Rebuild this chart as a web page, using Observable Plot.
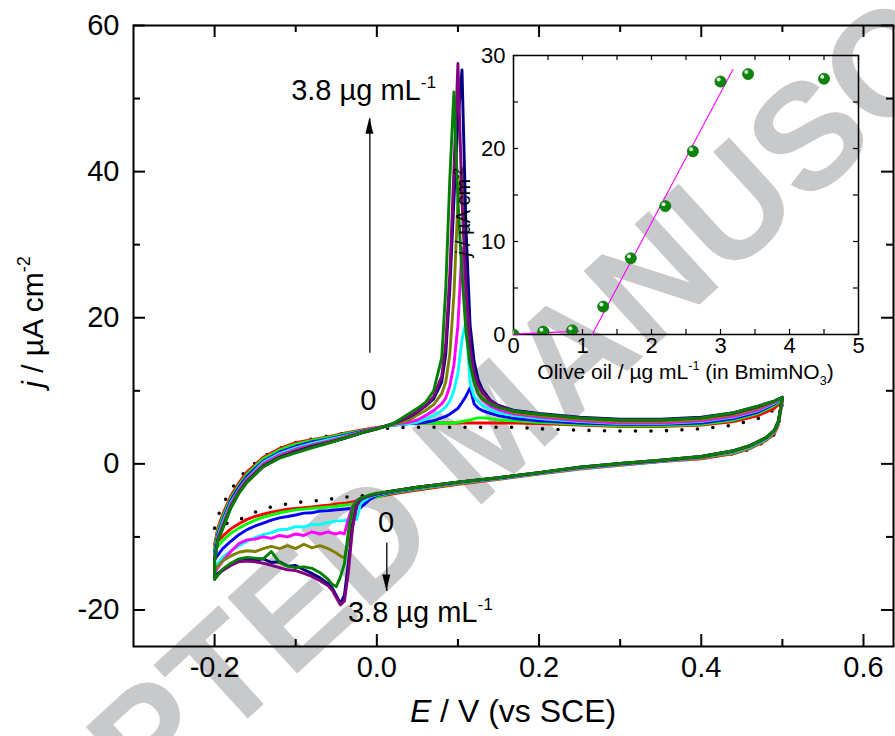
<!DOCTYPE html>
<html><head><meta charset="utf-8">
<script src="https://cdn.jsdelivr.net/npm/d3@7"></script>
<script src="https://cdn.jsdelivr.net/npm/@observablehq/plot@0.6"></script>
<style>
html,body{margin:0;padding:0;background:#fff;}
#wrap{position:relative;width:895px;height:736px;overflow:hidden;}
#wrap svg{position:absolute;}
</style></head><body><div id="wrap"></div>
<script>
// ---------- main CV data (E in V vs SCE, j in µA cm-2) ----------
const upperE = [-0.2,-0.196,-0.19,-0.18,-0.17,-0.16,-0.14,-0.12,-0.1,-0.08,-0.06,-0.04,-0.02,0,
  0.02,0.04,0.05,0.06,0.07,0.08,0.085,0.09,0.095,0.1,0.105,0.11,0.115,0.12,0.125,0.13,0.14,0.15,
  0.17,0.2,0.25,0.3,0.35,0.4,0.44,0.47,0.49,0.5];
const lowerE = [0.5,0.495,0.49,0.48,0.46,0.44,0.4,0.35,0.3,0.25,0.2,0.15,0.1,0.05,0.02,
  0,-0.01,-0.02,-0.025,-0.03,-0.035,-0.04,-0.045,-0.05,-0.055,-0.06,-0.07,-0.08,-0.09,-0.1,
  -0.11,-0.12,-0.13,-0.14,-0.15,-0.16,-0.17,-0.18,-0.19,-0.196,-0.2];

const upDotted  = [-8.8,-7.2,-5.6,-3.6,-2.0,-0.8,1.0,2.1,2.9,3.4,3.8,4.2,4.5,4.8,
  4.9,5.0,5.0,5.0,5.0,5.0,5.0,5.0,5.0,5.0,5.0,5.0,5.0,5.0,5.0,5.0,5.0,5.0,
  5.0,4.8,4.6,4.5,4.5,4.8,5.3,6.2,7.4,8.3];
const upRed     = [-11.0,-8.8,-6.9,-4.4,-2.6,-1.1,0.9,2.1,2.9,3.3,3.7,4.2,4.6,5.0,
  5.3,5.5,5.5,5.6,5.6,5.6,5.6,5.6,5.6,5.6,5.6,5.6,5.6,5.6,5.6,5.6,5.6,5.6,
  5.6,5.5,5.3,5.1,5.1,5.3,5.8,6.6,7.6,8.6];
const upLime    = [-11.5,-9.2,-7.3,-4.7,-2.9,-1.4,0.7,1.9,2.7,3.2,3.6,4.1,4.5,4.9,
  5.3,5.5,5.6,5.6,5.6,5.6,5.6,5.6,5.6,5.7,5.8,5.9,6.0,6.2,6.3,6.3,6.2,6.0,
  5.9,5.7,5.4,5.2,5.2,5.4,6.0,6.9,8.0,8.8];
const upBlue    = [-12.0,-9.6,-7.7,-5.0,-3.2,-1.7,0.4,1.6,2.4,3.0,3.4,3.9,4.4,4.9,
  5.3,5.5,5.6,5.7,5.9,6.3,6.5,6.8,7.2,7.6,8.4,9.3,10.4,8.2,7.6,7.3,6.9,6.6,
  6.2,5.9,5.6,5.4,5.4,5.6,6.2,7.1,8.2,8.9];
const upCyan    = [-12.4,-9.9,-8.0,-5.3,-3.5,-2.0,0.2,1.4,2.2,2.8,3.3,3.8,4.3,4.9,
  5.3,5.5,5.7,6.1,6.6,7.3,7.8,8.6,10.0,12.5,17.0,19.5,11.0,9.2,8.5,8.0,7.4,7.0,
  6.6,6.2,5.8,5.5,5.5,5.8,6.4,7.3,8.3,8.9];
const upMagenta = [-12.7,-10.1,-8.3,-5.5,-3.6,-2.1,0.0,1.2,2.0,2.6,3.1,3.7,4.3,4.9,
  5.4,5.7,6.0,6.6,7.3,8.2,9.0,10.7,13.5,19.0,29.5,22.0,14.5,11.2,9.6,8.8,7.9,7.4,
  6.8,6.4,5.9,5.6,5.6,5.9,6.5,7.4,8.4,9.0];
const upOlive   = [-12.9,-10.3,-8.5,-5.7,-3.8,-2.3,-0.2,1.0,1.8,2.5,3.0,3.6,4.2,4.8,
  5.4,6.0,6.7,7.3,8.1,9.6,11.2,15.0,23.0,36.0,40.5,25.0,16.0,12.5,10.6,9.5,8.4,7.8,
  7.0,6.6,6.1,5.8,5.8,6.1,6.7,7.6,8.5,9.0];
const upNavy    = [-13.1,-10.4,-8.7,-5.9,-3.9,-2.4,-0.3,0.9,1.7,2.4,2.9,3.5,4.2,4.8,
  5.5,6.4,7.1,7.9,8.9,11.2,15.0,24.0,36.0,47.0,53.9,32.0,19.0,14.0,11.5,10.2,8.7,8.0,
  7.3,6.9,6.4,6.1,6.1,6.4,7.0,7.9,8.6,9.1];
const upPurple  = [-13.2,-10.5,-8.8,-6.0,-4.0,-2.5,-0.4,0.8,1.6,2.3,2.9,3.5,4.2,4.8,
  5.5,6.5,7.2,8.0,9.2,12.0,16.5,26.0,40.0,54.8,36.0,24.0,16.0,12.5,10.8,9.8,8.6,7.9,
  7.2,6.8,6.3,6.0,6.0,6.3,6.9,7.8,8.6,9.1];
const upGreen   = [-13.3,-10.5,-8.9,-6.0,-4.0,-2.5,-0.4,0.8,1.5,2.2,2.8,3.5,4.2,4.8,
  5.5,6.9,7.6,8.4,10.0,14.5,24.0,39.0,50.9,36.0,26.0,18.0,13.5,11.2,9.6,8.9,8.2,7.7,
  7.2,6.8,6.3,6.0,6.0,6.3,7.0,7.9,8.6,9.1];

const loDotted  = [8.3,5.2,4.0,3.1,2.0,1.4,0.8,0.4,-0.1,-0.6,-1.3,-2.0,-2.6,-3.3,-3.8,
  -4.2,-4.3,-4.4,-4.4,-4.5,-4.5,-4.6,-4.6,-4.7,-4.8,-4.8,-5.0,-5.1,-5.2,-5.3,-5.5,-5.6,-5.9,-6.2,-6.6,-7.1,-7.7,-8.0,-8.3,-8.5,-8.8];
const loRed     = [8.6,5.3,4.1,3.2,2.1,1.4,0.7,0.3,-0.2,-0.7,-1.4,-2.1,-2.8,-3.6,-4.1,
  -4.5,-4.8,-5.0,-5.1,-5.2,-5.3,-5.4,-5.45,-5.5,-5.6,-5.65,-5.75,-5.9,-6.0,-6.1,-6.2,-6.4,-6.6,-6.9,-7.2,-7.6,-8.2,-8.9,-9.9,-10.6,-11.2];
const loLime    = [8.8,5.5,4.3,3.3,2.2,1.5,0.8,0.3,-0.15,-0.65,-1.35,-2.05,-2.7,-3.45,-3.95,
  -4.5,-4.8,-5.2,-5.4,-5.5,-5.6,-5.65,-5.7,-5.8,-5.85,-5.9,-6.0,-6.1,-6.2,-6.3,-6.5,-6.7,-7.0,-7.3,-7.7,-8.2,-8.8,-9.5,-10.5,-11.3,-11.9];
const loBlue    = [8.9,5.6,4.4,3.4,2.3,1.6,0.85,0.35,-0.1,-0.6,-1.3,-2.0,-2.6,-3.35,-3.85,
  -4.3,-5.0,-6.0,-6.05,-6.1,-6.15,-6.2,-6.25,-6.3,-6.35,-6.4,-6.45,-6.7,-6.75,-7.0,-7.2,-7.4,-7.7,-8.1,-8.5,-9.0,-9.7,-10.6,-11.6,-12.5,-13.1];
const loCyan    = [8.9,5.6,4.4,3.4,2.3,1.6,0.85,0.35,-0.1,-0.6,-1.3,-2.0,-2.6,-3.3,-3.8,
  -4.2,-4.6,-5.4,-7.6,-7.7,-7.65,-7.75,-7.8,-7.8,-7.95,-8.0,-8.3,-8.3,-8.65,-8.6,-8.95,-9.0,-9.4,-9.7,-10.1,-10.6,-11.2,-11.9,-12.8,-13.6,-14.2];
const loMagenta = [9.0,5.7,4.5,3.5,2.4,1.7,0.9,0.4,-0.05,-0.55,-1.25,-1.95,-2.55,-3.25,-3.75,
  -4.1,-4.4,-4.7,-5.0,-5.8,-7.5,-9.6,-9.4,-9.6,-9.5,-9.3,-9.6,-9.3,-9.8,-9.6,-10.0,-9.8,-10.2,-10.0,-10.3,-10.4,-10.9,-12.0,-13.3,-14.2,-14.9];
const loOlive   = [9.0,5.7,4.5,3.5,2.4,1.7,0.9,0.45,0.0,-0.5,-1.2,-1.9,-2.5,-3.2,-3.7,
  -4.1,-4.4,-4.8,-5.3,-7.2,-10.5,-12.9,-12.6,-12.2,-11.9,-11.6,-11.2,-11.5,-11.0,-11.6,-11.2,-11.6,-11.3,-11.6,-12.0,-11.9,-12.1,-12.6,-13.3,-14.0,-14.6];
const loNavy    = [9.1,5.8,4.6,3.6,2.5,1.8,1.0,0.5,0.05,-0.45,-1.2,-1.9,-2.5,-3.2,-3.7,
  -4.1,-4.4,-4.8,-5.7,-8.5,-13.5,-18.0,-19.1,-18.0,-17.0,-16.4,-15.6,-15.0,-14.5,-13.9,-14.0,-13.4,-13.5,-13.0,-13.2,-13.0,-13.3,-13.8,-14.5,-15.0,-15.6];
const loPurple  = [9.1,5.8,4.6,3.6,2.5,1.8,1.0,0.5,0.05,-0.45,-1.2,-1.9,-2.5,-3.2,-3.7,
  -4.1,-4.4,-4.9,-5.8,-8.8,-14.8,-18.8,-19.3,-18.3,-17.3,-16.7,-16.0,-15.4,-15.0,-14.6,-14.5,-14.2,-13.9,-13.6,-13.4,-13.3,-13.4,-13.9,-14.6,-15.2,-15.8];
const loGreen   = [9.1,5.8,4.6,3.6,2.5,1.8,1.0,0.5,0.05,-0.45,-1.2,-1.9,-2.5,-3.2,-3.7,
  -4.0,-4.3,-4.7,-5.1,-6.0,-9.2,-13.7,-15.5,-16.8,-16.5,-15.8,-14.9,-14.3,-14.1,-14.2,-14.0,-13.5,-12.0,-13.0,-12.9,-12.8,-13.0,-13.6,-14.4,-15.2,-15.8];

const seriesColors = ["#000000","#ff0000","#00ff00","#0000ff","#00ffff","#ff00ff","#808000","#000080","#800080","#008000"];
const seriesUp = [upDotted,upRed,upLime,upBlue,upCyan,upMagenta,upOlive,upNavy,upPurple,upGreen];
const seriesLo = [loDotted,loRed,loLime,loBlue,loCyan,loMagenta,loOlive,loNavy,loPurple,loGreen];

// axis ticks
const majorX = [-0.2, 0, 0.2, 0.4, 0.6];
const minorX = [-0.1, 0.1, 0.3, 0.5];
const majorY = [-20, 0, 20, 40, 60];
const minorY = [-10, 10, 30, 50];

// annotations (data units)
const annotE = [-0.105, -0.01, 0.012, -0.035];
const annotJ = [49.7, 7.3, -9.4, -21.7];
const annotText = ["3.8 µg mL", "0", "0", "3.8 µg mL"];
const annotSup = ["-1", "", "", "-1"];
const annotAnchor = ["start", "middle", "middle", "start"];
const arrowE = [-0.0086, 0.0123];
const arrowFromJ = [15.2, -10.8];
const arrowToJ = [47.3, -17.4];

// ---------- inset data ----------
const insetConc = [0, 0.43, 0.85, 1.3, 1.7, 2.2, 2.6, 3.0, 3.4, 4.5];
const insetJ = [0, 0.3, 0.45, 3.0, 8.2, 13.8, 19.7, 27.2, 28.0, 27.5];
const fitLowX = [0, 0.95], fitLowY = [0.04, 0.36];
const fitHighX = [1.14, 3.18], fitHighY = [0, 28.5];
const insetXTicks = [0,0.5,1,1.5,2,2.5,3,3.5,4,4.5,5];
const insetXLabels = [0,1,2,3,4,5];
const insetYTicks = [0,5,10,15,20,25,30];
const insetYLabels = [0,10,20,30];

// ---------- render ----------
const FONT = "'Liberation Sans', Arial, Helvetica, sans-serif";
const W = 895, H = 736;
const M = {l:133, r:2, t:25, b:90};
const FW = W - M.l - M.r, FH = H - M.t - M.b;

function loop(i) {
  const up = seriesUp[i], lo = seriesLo[i];
  const pts = upperE.map((e,k) => ({E:e, j:up[k]}));
  lowerE.forEach((e,k) => { if (k > 0) pts.push({E:e, j:lo[k]}); });
  pts.push(pts[0]);
  return pts;
}

const curveMarks = seriesColors.map((c,i) => i === 0
  ? Plot.line(loop(i), {x:"E", y:"j", stroke:c, strokeWidth:3.6, strokeDasharray:"0 15.5", strokeLinecap:"round"})
  : Plot.line(loop(i), {x:"E", y:"j", stroke:c, strokeWidth:2.9, strokeLinejoin:"round"}));

const arrows = arrowE.map((e,k) => ({x:e, y1:arrowFromJ[k], y2:arrowToJ[k]}));

const main = Plot.plot({
  width: W, height: H,
  marginLeft: M.l, marginRight: M.r, marginTop: M.t, marginBottom: M.b,
  x: {domain: [-0.3, 0.637]},
  y: {domain: [-25, 60]},
  style: {background: "transparent", fontFamily: FONT, color: "black"},
  marks: [
    ...curveMarks,
    Plot.link(arrows, {x1:"x", x2:"x", y1:"y1", y2:"y2", stroke:"black", strokeWidth:1.3}),
    Plot.frame({stroke:"black", strokeWidth:2}),
    Plot.tickX(majorX, {x:d=>d, insetTop:FH-12, stroke:"black", strokeWidth:2}),
    Plot.tickX(majorX, {x:d=>d, insetBottom:FH-12, stroke:"black", strokeWidth:2}),
    Plot.tickX(minorX, {x:d=>d, insetTop:FH-7, stroke:"black", strokeWidth:2}),
    Plot.tickX(minorX, {x:d=>d, insetBottom:FH-7, stroke:"black", strokeWidth:2}),
    Plot.tickY(majorY, {y:d=>d, insetRight:FW-12, stroke:"black", strokeWidth:2}),
    Plot.tickY(majorY, {y:d=>d, insetLeft:FW-12, stroke:"black", strokeWidth:2}),
    Plot.tickY(minorY, {y:d=>d, insetRight:FW-7, stroke:"black", strokeWidth:2}),
    Plot.tickY(minorY, {y:d=>d, insetLeft:FW-7, stroke:"black", strokeWidth:2}),
    Plot.axisX({anchor:"bottom", ticks:majorX, tickSize:0, tickPadding:10, fontSize:29, tickFormat:d=>d.toFixed(1), label:null}),
    Plot.axisY({anchor:"left", ticks:majorY, tickSize:0, tickPadding:14, fontSize:29, tickFormat:d=>String(d), label:null})
  ]
});
main.style.left = "0px"; main.style.top = "0px";
document.getElementById("wrap").appendChild(main);

function richText(sel, {x, y, size, anchor="start", rotate=0, parts}) {
  const t = sel.append("text")
    .attr("transform", `translate(${x},${y}) rotate(${rotate})`)
    .attr("font-size", size).attr("text-anchor", anchor)
    .attr("font-family", FONT).attr("fill", "black");
  let shift = 0;
  parts.forEach(p => {
    const ts = t.append("tspan").text(p.t);
    const target = p.sup ? -0.42*size : p.sub ? 0.3*size : 0;
    if (target !== shift) { ts.attr("dy", target - shift); shift = target; }
    if (p.sup || p.sub) ts.attr("font-size", size*0.6);
    if (p.italic) ts.attr("font-style", "italic");
  });
  return t;
}

const svg = d3.select(main);
const sx = main.scale("x"), sy = main.scale("y");

// watermark behind everything
svg.insert("text", ":first-child")
  .attr("transform", "translate(488,428) rotate(-42.5)")
  .attr("text-anchor", "middle").attr("dominant-baseline", "central")
  .attr("font-family", FONT).attr("font-weight", "bold").attr("font-size", 150)
  .attr("fill", "#c8c9cb").text("ACCEPTED MANUSCRIPT");

// arrowheads
arrows.forEach(a => {
  const px = sx.apply(a.x), py = sy.apply(a.y2);
  const dir = a.y2 > a.y1 ? 1 : -1;
  const L = 16, hw = 4;
  svg.append("path").attr("fill", "black")
    .attr("d", `M${px},${py} L${px-hw},${py + dir*L} L${px+hw},${py + dir*L} Z`);
});

// annotations
annotText.forEach((t,k) => {
  const parts = [{t}];
  if (annotSup[k]) parts.push({t:annotSup[k], sup:true});
  richText(svg, {x:sx.apply(annotE[k]), y:sy.apply(annotJ[k]), size:29, anchor:annotAnchor[k], parts});
});

// axis titles
richText(svg, {x:(M.l + W - M.r)/2, y:722, size:32, anchor:"middle",
  parts:[{t:"E", italic:true}, {t:" / V (vs SCE)"}]});
richText(svg, {x:43, y:322, size:30, anchor:"middle", rotate:-90,
  parts:[{t:"j", italic:true}, {t:" / µA cm"}, {t:"-2", sup:true}]});

// ---------- inset ----------
const IW = 430, IH = 350, IM = {l:73, r:12, t:15, b:56};
const IFW = IW - IM.l - IM.r, IFH = IH - IM.t - IM.b;
const pts = insetConc.map((c,k) => ({c, j:insetJ[k]}));
const fits = [
  ...fitLowX.map((x,k) => ({x, y:fitLowY[k], g:"low"})),
  ...fitHighX.map((x,k) => ({x, y:fitHighY[k], g:"high"}))
];
const inset = Plot.plot({
  width: IW, height: IH,
  marginLeft: IM.l, marginRight: IM.r, marginTop: IM.t, marginBottom: IM.b,
  x: {domain:[0,5]}, y: {domain:[0,30]},
  style: {background:"transparent", fontFamily: FONT, color:"black"},
  marks: [
    Plot.frame({stroke:"black", strokeWidth:1.5}),
    Plot.tickX(insetXTicks, {x:d=>d, insetTop:IFH-5, stroke:"black", strokeWidth:1.2}),
    Plot.tickX(insetXTicks, {x:d=>d, insetBottom:IFH-5, stroke:"black", strokeWidth:1.2}),
    Plot.tickY(insetYTicks, {y:d=>d, insetRight:IFW-5, stroke:"black", strokeWidth:1.2}),
    Plot.tickY(insetYTicks, {y:d=>d, insetLeft:IFW-5, stroke:"black", strokeWidth:1.2}),
    Plot.axisX({anchor:"bottom", ticks:insetXLabels, tickSize:0, tickPadding:3, fontSize:22, tickFormat:d=>String(d), label:null}),
    Plot.axisY({anchor:"left", ticks:insetYLabels, tickSize:0, tickPadding:8, fontSize:22, tickFormat:d=>String(d), label:null}),
    Plot.line(fits, {x:"x", y:"y", z:"g", stroke:"#ff00ff", strokeWidth:1.1}),
    Plot.dot(pts, {x:"c", y:"j", r:5.6, fill:"#0b860b", stroke:"#056105", strokeWidth:0.6, clip:true}),
    Plot.dot(pts, {x:"c", y:"j", r:2, dx:-1.8, dy:-2, fill:"#f2fff2", fillOpacity:0.9, clip:true})
  ]
});
inset.style.left = "440px"; inset.style.top = "40px";
document.getElementById("wrap").appendChild(inset);
const isvg = d3.select(inset);
richText(isvg, {x:(IM.l + IW - IM.r)/2, y:339, size:21, anchor:"middle",
  parts:[{t:"Olive oil / µg mL"}, {t:"-1", sup:true}, {t:" (in BmimNO"}, {t:"3", sub:true}, {t:")"}]});
richText(isvg, {x:30, y:172, size:20, anchor:"middle", rotate:-90,
  parts:[{t:"j", italic:true}, {t:" / µA cm"}, {t:"-2", sup:true}]});
</script></body></html>
